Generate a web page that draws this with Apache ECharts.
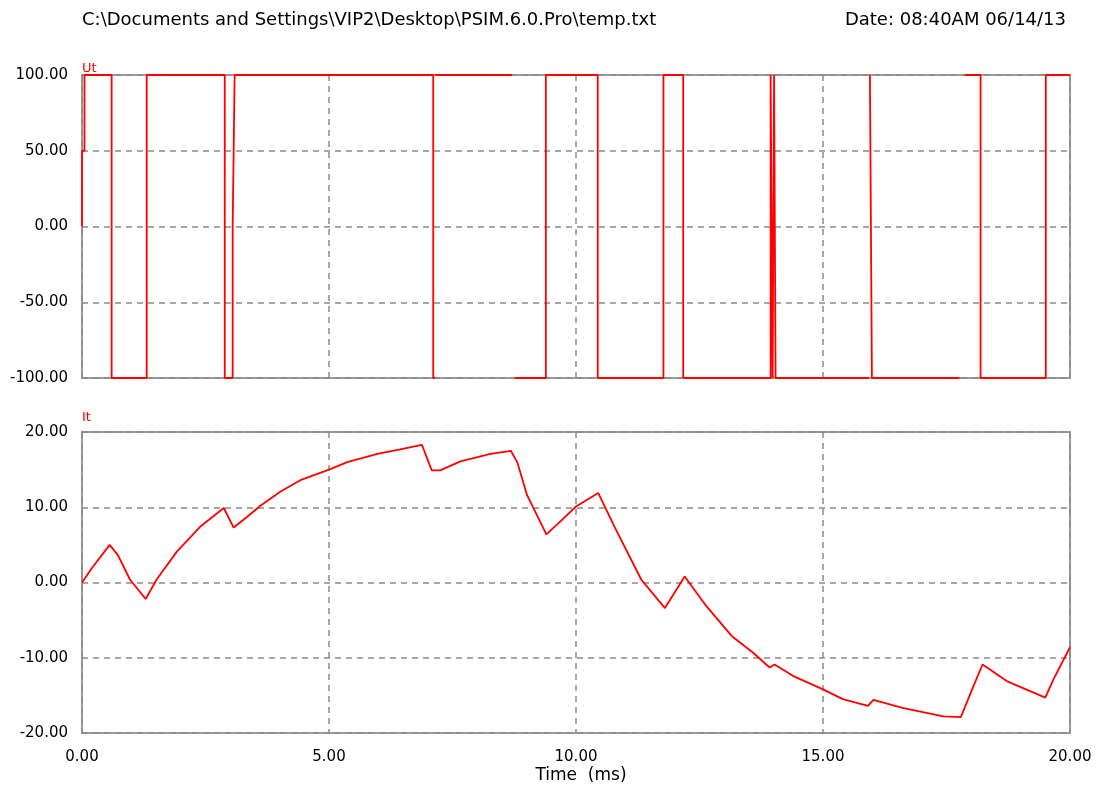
<!DOCTYPE html>
<html>
<head>
<meta charset="utf-8">
<title>PSIM waveform</title>
<script src="https://cdn.jsdelivr.net/npm/echarts@6/dist/echarts.min.js"></script>
<style>
    html, body { margin: 0; padding: 0; background: #fff; }
    #chartsbox { width: 1096px; height: 787px; }
</style>
</head>
<body>
<div id="chartsbox"></div>
<script type="text/javascript">
    // 时间轴 (ms)
    var xTicks = [0, 5, 10, 15, 20];
    var utTicks = [-100, -50, 0, 50, 100];
    var itTicks = [-20, -10, 0, 10, 20];

    // Ut 阶梯电压, '-' 表示断线 (原图该处没有竖线)
    var utTime = [0, 0, 0.05, 0.05, 0.60, 0.60, 1.31, 1.31, 2.89, 2.89, 3.05, 3.05, 3.09, 3.09,
        7.11, 7.11, 7.15, 7.15, 7.15, 8.70, 8.70, 8.76, 9.39, 9.39, 10.44, 10.44, 11.77, 11.77,
        12.17, 12.17, 13.94, 13.94, 13.98, 13.98, 14.01, 14.01, 14.04, 14.04, 15.93, 15.93, 15.95,
        15.99, 15.99, 17.76, 17.76, 17.87, 18.19, 18.19, 19.51, 19.51, 20];
    var utValue = [0, 50, 50, 100, 100, -100, -100, 100, 100, -100, -100, 0, 0, 100,
        100, -100, -100, '-', 100, 100, '-', -100, -100, 100, 100, -100, -100, 100,
        100, -100, -100, 100, 100, -100, -100, 100, 100, -100, -100, '-', 100,
        100, -100, -100, '-', 100, 100, -100, -100, 100, 100];

    // It 电流
    var itTime = [0, 0.22, 0.56, 0.73, 0.97, 1.29, 1.51, 1.92, 2.39, 2.87, 3.07, 3.34, 3.61, 4.02,
        4.42, 5.00, 5.37, 5.98, 6.44, 6.88, 7.08, 7.25, 7.66, 8.27, 8.68, 8.81, 9.01, 9.40, 9.76,
        10.00, 10.45, 10.78, 11.32, 11.80, 12.20, 12.61, 13.15, 13.58, 13.92, 14.02, 14.39, 15.00,
        15.40, 15.91, 16.02, 16.63, 17.44, 17.79, 18.05, 18.23, 18.72, 19.50, 19.67, 20.00];
    var itValue = [0, 2.1, 5.0, 3.6, 0.4, -2.2, 0.4, 4.1, 7.4, 9.9, 7.3, 8.7, 10.2, 12.1,
        13.6, 15.0, 16.0, 17.1, 17.7, 18.3, 14.9, 14.9, 16.1, 17.1, 17.5, 16.0, 11.6, 6.4, 8.6,
        10.1, 11.9, 7.4, 0.4, -3.4, 0.8, -2.9, -7.1, -9.3, -11.3, -10.9, -12.4, -14.2,
        -15.5, -16.4, -15.6, -16.7, -17.8, -17.9, -13.7, -10.9, -13.1, -15.3, -12.8, -8.6];

    function Pairs(aX, aY) {
        var aOut = [];
        for (var i = 0; i < aX.length; i++) {
            aOut.push([aX[i], aY[i]]);
        }
        return aOut;
    }

    var sFont = 'DejaVu Sans';
    var oSplit = { show: true, lineStyle: { color: '#8a8a8a', width: 1.5, type: [6, 5] } };

    function YAxis(nGrid, aTicks) {
        return {
            type: 'value',
            gridIndex: nGrid,
            min: aTicks[0],
            max: aTicks[aTicks.length - 1],
            interval: aTicks[1] - aTicks[0],
            axisLine: { show: false },
            axisTick: { show: false },
            axisLabel: {
                color: '#000', fontSize: 15, fontFamily: sFont, margin: 14,
                formatter: function (v) { return v.toFixed(2); }
            },
            splitLine: oSplit
        };
    }

    function XAxis(nGrid, bLabel) {
        return {
            type: 'value',
            gridIndex: nGrid,
            min: xTicks[0],
            max: xTicks[xTicks.length - 1],
            interval: xTicks[1] - xTicks[0],
            axisLine: { show: false },
            axisTick: { show: false },
            axisLabel: {
                show: bLabel, color: '#000', fontSize: 15, fontFamily: sFont, margin: 17,
                formatter: function (v) { return v.toFixed(2); }
            },
            splitLine: oSplit
        };
    }

    var myChart = echarts.init(document.getElementById('chartsbox'));
    var option = {
        animation: false,
        backgroundColor: '#fff',
        title: [
            { text: 'C:\\Documents and Settings\\VIP2\\Desktop\\PSIM.6.0.Pro\\temp.txt', left: 77, top: 6,
              textStyle: { fontSize: 18, fontWeight: 'normal', color: '#000', fontFamily: sFont } },
            { text: 'Date: 08:40AM 06/14/13', right: 25, top: 6,
              textStyle: { fontSize: 18, fontWeight: 'normal', color: '#000', fontFamily: sFont } },
            { text: 'Ut', left: 77, top: 57,
              textStyle: { fontSize: 13, fontWeight: 'normal', color: '#ff0000', fontFamily: sFont } },
            { text: 'It', left: 77, top: 406,
              textStyle: { fontSize: 13, fontWeight: 'normal', color: '#ff0000', fontFamily: sFont } },
            { text: 'Time  (ms)', left: 576, top: 762, textAlign: 'center',
              textStyle: { fontSize: 17, fontWeight: 'normal', color: '#000', fontFamily: sFont } }
        ],
        grid: [
            { left: 82, right: 26, top: 75, height: 303, show: true, borderColor: '#9a9a9a', borderWidth: 2 },
            { left: 82, right: 26, top: 432, height: 301, show: true, borderColor: '#9a9a9a', borderWidth: 2 }
        ],
        xAxis: [XAxis(0, false), XAxis(1, true)],
        yAxis: [YAxis(0, utTicks), YAxis(1, itTicks)],
        series: [
            {
                name: 'Ut', type: 'line', xAxisIndex: 0, yAxisIndex: 0,
                showSymbol: false, symbol: 'none', connectNulls: false,
                lineStyle: { color: '#ff0000', width: 1.8 },
                data: Pairs(utTime, utValue)
            },
            {
                name: 'It', type: 'line', xAxisIndex: 1, yAxisIndex: 1,
                showSymbol: false, symbol: 'none',
                lineStyle: { color: '#ff0000', width: 1.8 },
                data: Pairs(itTime, itValue)
            }
        ]
    };
    myChart.setOption(option);
</script>
</body>
</html>
